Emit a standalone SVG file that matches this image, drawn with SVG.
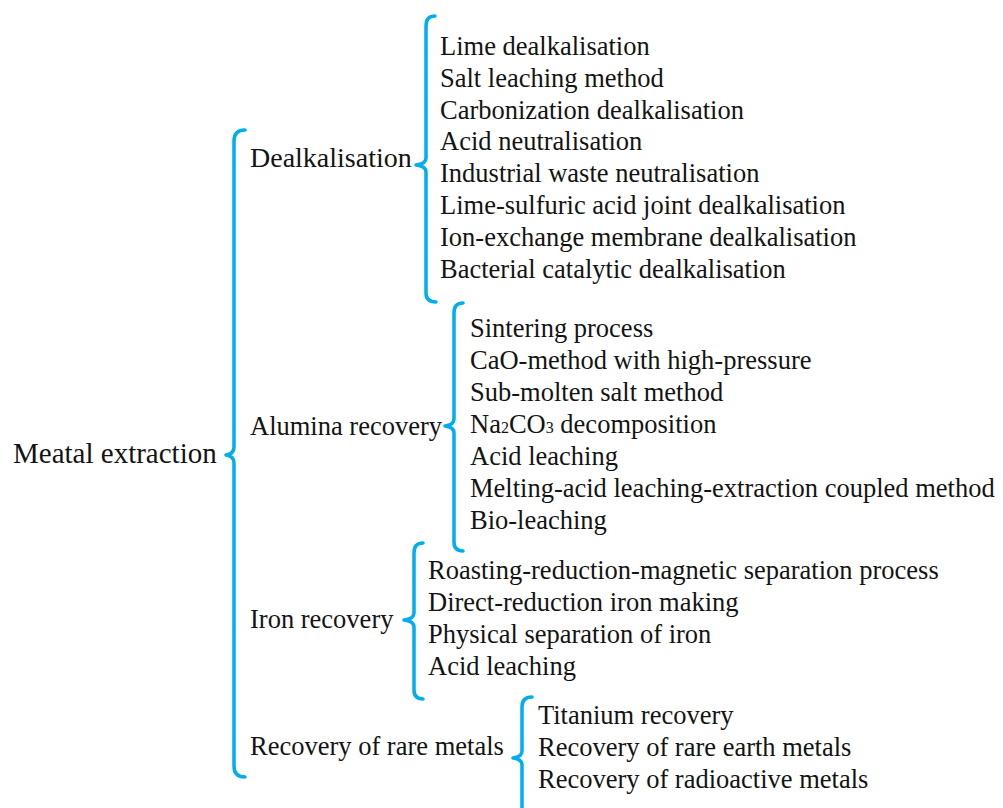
<svg xmlns="http://www.w3.org/2000/svg" width="1003" height="808" viewBox="0 0 1003 808">
  <style>
    .t { font-family: "Liberation Serif", "Times New Roman", serif; font-size: 26.5px; fill: #141414; }
    .root { font-size: 29px; }
    .big { font-size: 28px; }
    .brace { fill: none; stroke: #00aeef; stroke-width: 3.5; stroke-linecap: round; stroke-linejoin: round; }
    .sub { font-size: 16px; }
  </style>
  <rect width="1003" height="808" fill="#ffffff"/>

  <!-- connectors: curly braces -->
  <g id="connectors">
    <!-- root brace -->
    <path class="brace" d="M245,130 Q234,130 234,141 L234,447 Q234,454 226,455 Q234,456 234,463 L234,766 Q234,777 245,777"/>
    <!-- Dealkalisation brace -->
    <path class="brace" d="M435,16 Q426,16 426,26 L426,158 Q426,164 416,165 Q426,166 426,172 L426,293 Q426,302 436,302"/>
    <!-- Alumina recovery brace -->
    <path class="brace" d="M463,303 Q454,303 454,313 L454,419 Q454,425 445,426 Q454,427 454,433 L454,542 Q454,551 463,551"/>
    <!-- Iron recovery brace -->
    <path class="brace" d="M423,543 Q414,543 414,553 L414,613 Q414,619 404,620 Q414,621 414,627 L414,690 Q414,699 423,699"/>
    <!-- Rare metals brace -->
    <path class="brace" d="M532,697 Q522,697 522,707 L522,751 Q522,757 513,758 Q522,759 522,765 L522,812"/>
  </g>

  <g id="root">
    <text class="t root" x="13" y="463">Meatal extraction</text>
  </g>

  <g id="dealkalisation">
    <text class="t big" x="250" y="167">Dealkalisation</text>
  </g>
  <g id="dealkalisation-methods">
    <text class="t" x="440" y="55">Lime dealkalisation</text>
    <text class="t" x="440" y="87">Salt leaching method</text>
    <text class="t" x="440" y="119">Carbonization dealkalisation</text>
    <text class="t" x="440" y="150">Acid neutralisation</text>
    <text class="t" x="440" y="182">Industrial waste neutralisation</text>
    <text class="t" x="440" y="214">Lime-sulfuric acid joint dealkalisation</text>
    <text class="t" x="440" y="246">Ion-exchange membrane dealkalisation</text>
    <text class="t" x="440" y="278">Bacterial catalytic dealkalisation</text>
  </g>

  <g id="alumina">
    <text class="t" x="250" y="435">Alumina recovery</text>
  </g>
  <g id="alumina-methods">
    <text class="t" x="470" y="337">Sintering process</text>
    <text class="t" x="470" y="369">CaO-method with high-pressure</text>
    <text class="t" x="470" y="401">Sub-molten salt method</text>
    <text class="t" x="470" y="433">Na<tspan class="sub">2</tspan>CO<tspan class="sub">3</tspan> decomposition</text>
    <text class="t" x="470" y="465">Acid leaching</text>
    <text class="t" x="470" y="497">Melting-acid leaching-extraction coupled method</text>
    <text class="t" x="470" y="529">Bio-leaching</text>
  </g>

  <g id="iron">
    <text class="t" x="250" y="628">Iron recovery</text>
  </g>
  <g id="iron-methods">
    <text class="t" x="428" y="579">Roasting-reduction-magnetic separation process</text>
    <text class="t" x="428" y="611">Direct-reduction iron making</text>
    <text class="t" x="428" y="643">Physical separation of iron</text>
    <text class="t" x="428" y="675">Acid leaching</text>
  </g>

  <g id="rare-metals">
    <text class="t" x="250" y="755">Recovery of rare metals</text>
  </g>
  <g id="rare-metals-methods">
    <text class="t" x="538" y="724">Titanium recovery</text>
    <text class="t" x="538" y="756">Recovery of rare earth metals</text>
    <text class="t" x="538" y="788">Recovery of radioactive metals</text>
  </g>
</svg>
